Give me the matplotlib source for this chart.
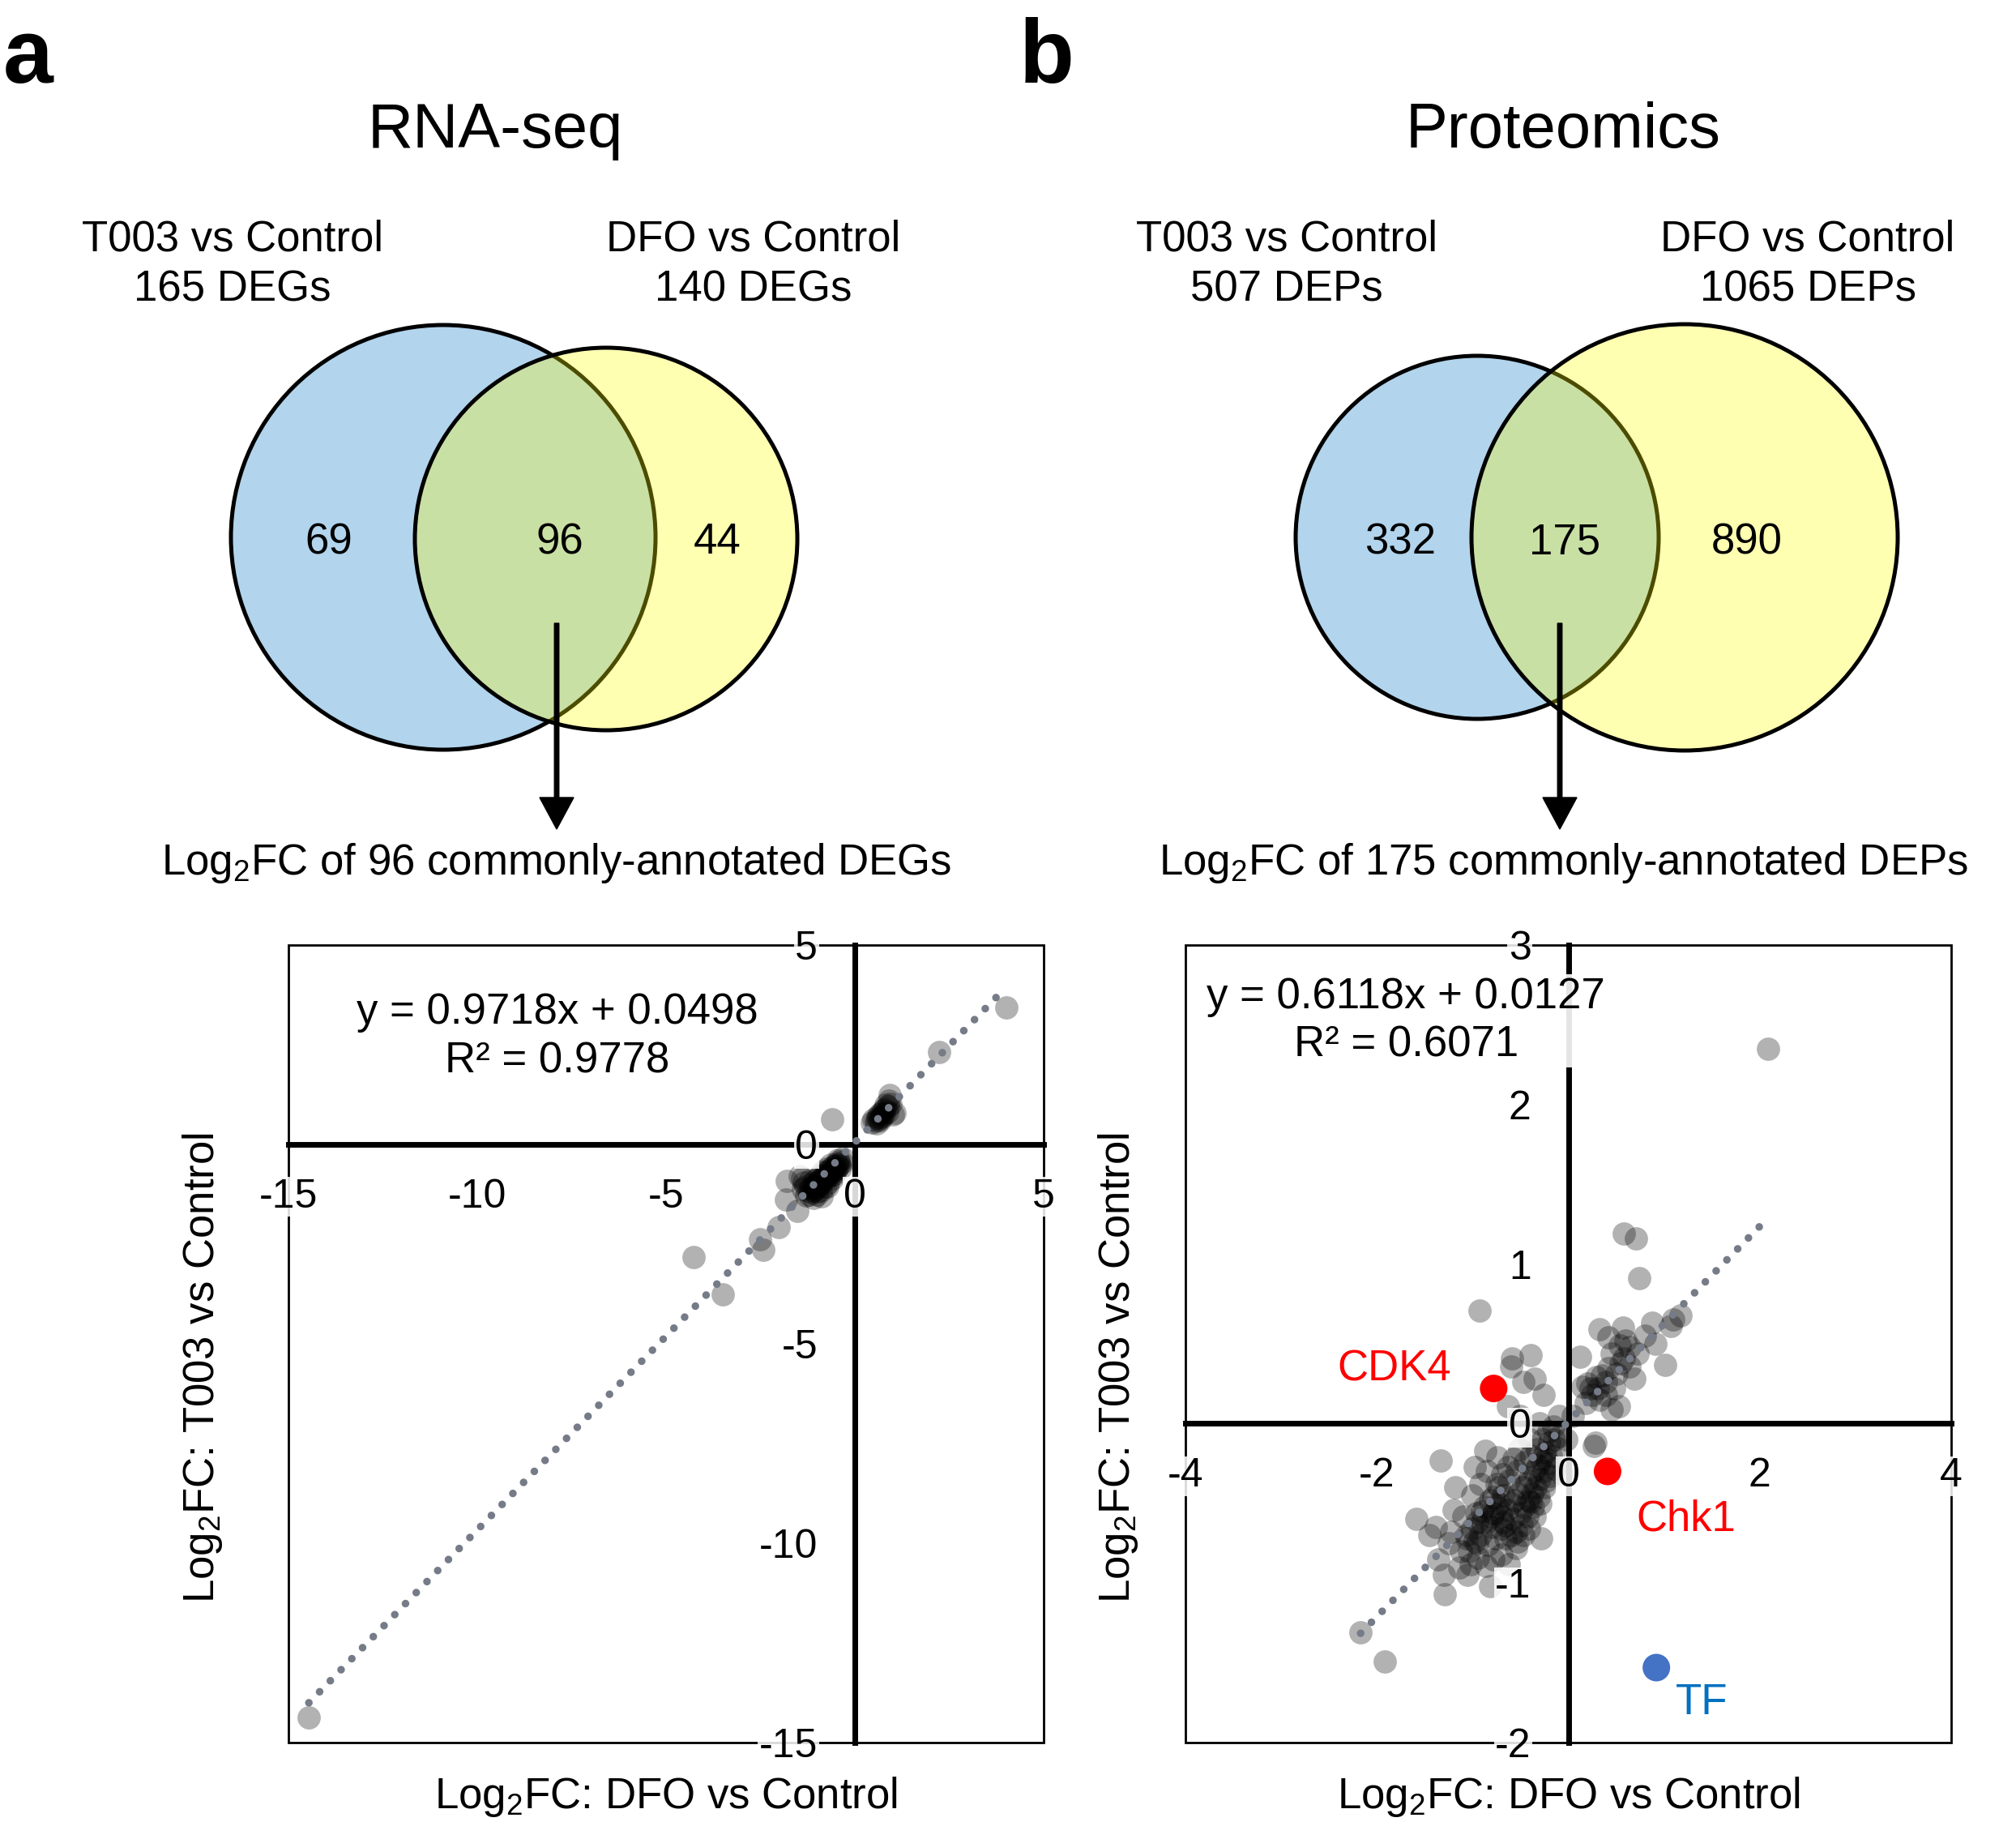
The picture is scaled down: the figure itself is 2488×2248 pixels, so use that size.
import numpy as np
import matplotlib
matplotlib.use("Agg")
import matplotlib.pyplot as plt
from matplotlib.patches import Circle, Rectangle

plt.rcParams["font.family"] = ["Liberation Sans", "DejaVu Sans"]
plt.rcParams["mathtext.fontset"] = "custom"
plt.rcParams["mathtext.rm"] = "Liberation Sans"
plt.rcParams["mathtext.default"] = "regular"
plt.rcParams["axes.unicode_minus"] = False

# ---- Venn counts ----
set_names = ["T003 vs Control", "DFO vs Control"]
rna_totals = [165, 140]
rna_regions = [69, 96, 44]
prot_totals = [507, 1065]
prot_regions = [332, 175, 890]

# ---- RNA-seq: log2FC DFO (x) vs T003 (y), 96 common DEGs ----
rna_x = [4.01, 2.24, -0.61, -1.80, -1.82, -1.53, -2.02, -2.51, -2.42, -4.26, -3.50, -14.46,
         0.45, 0.50, 0.55, 0.60, 0.62, 0.65, 0.68, 0.70, 0.72, 0.75, 0.78,
         0.80, 0.82, 0.85, 0.88, 0.90, 0.92, 0.95, 1.00, 1.05, 0.58, 0.66,
         -0.35, -0.40, -0.42, -0.45, -0.48, -0.50, -0.52, -0.55, -0.58, -0.60,
         -0.62, -0.65, -0.68, -0.70, -0.72, -0.75, -0.78, -0.80, -0.82, -0.85,
         -0.88, -0.90, -0.92, -0.95, -0.98, -1.00, -1.02, -1.05, -1.08, -1.10,
         -1.12, -1.15, -1.18, -1.20, -1.25, -1.30, -1.35, -1.40, -1.45, -0.60,
         -0.70, -0.80, -0.90, -1.00, -0.55, -0.65, -0.75, -0.85, -0.95, -1.05,
         -1.20, -0.45, -0.38, -0.88, -1.10, -0.98, -1.28, -0.72, -0.62, -0.52,
         -1.38, -0.33]
rna_y = [3.43, 2.31, 0.64, -0.92, -1.38, -1.67, -2.07, -2.38, -2.64, -2.82, -3.77, -14.38,
         0.55, 0.62, 0.58, 0.70, 0.65, 0.75, 0.68, 0.80, 0.72, 0.85, 0.78,
         0.90, 1.00, 0.82, 0.95, 1.10, 1.25, 1.02, 0.75, 0.80, 0.52, 0.60,
         -0.45, -0.50, -0.42, -0.55, -0.48, -0.60, -0.52, -0.62, -0.55, -0.68,
         -0.60, -0.72, -0.65, -0.78, -0.70, -0.82, -0.75, -0.88, -0.80, -0.92,
         -0.85, -0.98, -0.90, -1.02, -0.95, -1.08, -1.00, -1.12, -1.05, -1.15,
         -0.98, -1.20, -1.10, -1.25, -1.15, -1.05, -0.95, -0.85, -0.80, -0.85,
         -0.95, -1.05, -1.15, -1.25, -0.75, -0.50, -0.60, -0.70, -0.80, -0.90,
         -0.92, -0.38, -0.58, -1.30, -1.35, -1.18, -1.28, -1.05, -0.78, -0.68,
         -1.12, -0.35]
rna_fit = [0.9718, 0.0498, 0.9778]
rna_ticks = [-15, -10, -5, 0, 5]

# ---- Proteomics: log2FC DFO (x) vs T003 (y), 175 common DEPs ----
prot_x = [-0.10, -0.12, -0.15, -0.18, -0.20, -0.22, -0.24, -0.26, -0.28, -0.30,
          -0.32, -0.34, -0.36, -0.38, -0.40, -0.42, -0.44, -0.46, -0.48, -0.50,
          -0.52, -0.54, -0.56, -0.58, -0.60, -0.62, -0.64, -0.66, -0.68, -0.70,
          -0.14, -0.19, -0.25, -0.31, -0.37, -0.43, -0.49, -0.55, -0.21, -0.27,
          -0.33, -0.39, -0.45, -0.51, -0.57, -0.63, -0.69, -0.75, -0.16, -0.29,
          -0.35, -0.41, -0.47, -0.53, -0.23, -0.40, -0.30, -0.60, -0.72, -0.78,
          -0.74, -0.80, -0.86, -0.92, -0.98, -1.04, -0.70, -0.76, -0.82, -0.88,
          -0.94, -1.00, -1.06, -0.72, -0.78, -0.84, -0.90, -0.96, -1.02, -0.66,
          -1.33, -1.59, -1.38, -1.29, -0.82, -2.17, -1.92, -0.28, -0.55, -0.86,
          -1.14, -1.36, -0.95, -1.06, -1.20, -0.90, -0.98, -0.87, -0.74, -0.06,
          -0.23, -0.39, -0.68, -1.10, -1.25, -0.80, -1.00, -0.92, -1.18, -0.85,
          -1.45, -1.30, -1.05, -0.70, -1.22, -0.62, -0.95, -1.12, -0.78, -0.02,
          2.09, 0.58, 0.71, 0.74, -0.93, 1.17, 1.07, 0.88, 0.33, 0.57,
          0.42, 0.91, 1.01, 0.12, -0.59, -0.39, -0.60, -0.35, -0.26, -0.47,
          -0.63, 0.23, 0.31, 0.39, 0.50, 0.58, 0.69, 0.64, 0.54, 0.45,
          0.18, 0.45, 0.53, 0.15, 0.55, 0.72, 0.64, 0.29, 0.39, 0.27,
          0.28, 0.25, 0.35, 0.20, 0.42, 0.48, 0.33, 0.60, 0.80, 1.10,
          -0.50, -0.10, 0.05]
prot_y = [-0.08, -0.15, -0.10, -0.20, -0.12, -0.25, -0.18, -0.30, -0.22, -0.35,
          -0.26, -0.40, -0.30, -0.44, -0.34, -0.48, -0.38, -0.52, -0.40, -0.56,
          -0.44, -0.30, -0.48, -0.60, -0.50, -0.36, -0.54, -0.64, -0.45, -0.58,
          -0.28, -0.33, -0.40, -0.46, -0.52, -0.58, -0.64, -0.68, -0.05, -0.10,
          -0.16, -0.20, -0.24, -0.16, -0.22, -0.27, -0.32, -0.38, -0.02, -0.50,
          -0.58, -0.66, -0.70, -0.74, -0.36, -0.10, 0.00, -0.70, -0.50, -0.46,
          -0.52, -0.58, -0.62, -0.70, -0.74, -0.80, -0.66, -0.72, -0.48, -0.52,
          -0.84, -0.66, -0.70, -0.40, -0.85, -0.76, -0.62, -0.56, -0.88, -0.72,
          -0.23, -0.60, -0.65, -1.07, -1.02, -1.31, -1.49, -0.72, -0.78, -0.89,
          -0.90, -0.85, -0.75, -0.72, -0.54, -0.55, -0.27, -0.17, -0.21, -0.32,
          -0.22, -0.49, -0.62, -0.58, -0.75, -0.65, -0.45, -0.38, -0.40, -0.30,
          -0.70, -0.95, -0.95, -0.82, -0.68, -0.88, -0.62, -0.80, -0.56, -0.10,
          2.35, 1.19, 1.16, 0.91, 0.71, 0.68, 0.61, 0.63, 0.59, 0.60,
          0.54, 0.50, 0.37, 0.42, 0.41, 0.43, 0.36, 0.28, 0.18, 0.26,
          0.11, 0.22, 0.22, 0.26, 0.31, 0.41, 0.28, 0.48, 0.49, 0.44,
          0.13, 0.09, 0.11, 0.23, 0.38, 0.44, 0.36, 0.29, 0.18, -0.14,
          -0.12, 0.18, 0.30, 0.25, 0.35, 0.22, 0.15, 0.52, 0.55, 0.65,
          0.05, 0.05, 0.05]
prot_fit = [0.6118, 0.0127, 0.6071]
prot_xticks = [-4, -2, 0, 2, 4]
prot_yticks = [-2, -1, 0, 1, 2, 3]

highlight_names = ["CDK4", "Chk1", "TF"]
highlight_x = [-0.78, 0.41, 0.92]
highlight_y = [0.22, -0.30, -1.53]

# ---- styles / layout (pixels of the 2488 x 2248 canvas) ----
W, H = 2488, 2248
BLUE = "#B2D4EC"
YELLOW = (1.0, 1.0, 0.0, 0.30)
TREND = "#767b88"
point_color = ["#FF0000", "#FF0000", "#4472C4"]
label_color = ["#FF0000", "#FF0000", "#0070C0"]
label_offset = [(-1.04, 0.12), (0.82, -0.30), (0.47, -0.22)]

fig = plt.figure(figsize=(W / 100, H / 100), dpi=100)
bg = fig.add_axes([0, 0, 1, 1])
bg.set_xlim(0, W)
bg.set_ylim(H, 0)
bg.axis("off")


def venn_panel(letter, letter_x, title, title_x, totals, regions, unit,
               circles, label_x, count_x, arrow_x, caption_x):
    bg.text(letter_x, 102, letter, fontsize=80, fontweight="bold",
            ha="left", va="baseline")
    bg.text(title_x, 182, title, fontsize=56, ha="center", va="baseline")

    for name, total, lx in zip(set_names, totals, label_x):
        bg.text(lx, 310, name, fontsize=38, ha="center", va="baseline")
        bg.text(lx, 372, f"{total} {unit}", fontsize=38,
                ha="center", va="baseline")

    (cx1, cy1, r1), (cx2, cy2, r2) = circles
    bg.add_patch(Circle((cx1, cy1), r1, facecolor=BLUE,
                        edgecolor="black", lw=3.6))
    bg.add_patch(Circle((cx2, cy2), r2, facecolor=YELLOW,
                        edgecolor="black", lw=3.6))

    for n, cx in zip(regions, count_x):
        bg.text(cx, 683, str(n), fontsize=38, ha="center", va="baseline")

    bg.arrow(arrow_x, 769, 0, 254, width=5.5, head_width=42,
             head_length=39, length_includes_head=True,
             facecolor="black", edgecolor="black")
    bg.text(caption_x, 1079,
            f"Log$_2$FC of {regions[1]} commonly-annotated {unit}",
            fontsize=38, ha="center", va="baseline")


def scatter_panel(left, right, x, y, fit, xlim, ylim, xticks, yticks,
                  eq_pos, ylabel_x):
    top, bottom = 1166, 2150
    ax = fig.add_axes([left / W, 1 - bottom / H,
                       (right - left) / W, (bottom - top) / H])
    ax.set_xlim(xlim)
    ax.set_ylim(ylim)
    ax.set_facecolor("none")

    ax.scatter(x, y, s=430, color="black", alpha=0.30,
               linewidths=0, zorder=3)

    slope, icpt, r2 = fit
    xs = np.array([min(x), max(x)])
    ax.plot(xs, slope * xs + icpt, color=TREND, lw=6.8,
            linestyle=(0, (0.01, 2.0)), dash_capstyle="round", zorder=4)

    ax.spines["top"].set_visible(False)
    ax.spines["right"].set_visible(False)
    ax.spines["left"].set_position(("data", 0))
    ax.spines["bottom"].set_position(("data", 0))
    ax.spines["left"].set_linewidth(5)
    ax.spines["bottom"].set_linewidth(5)
    ax.add_patch(Rectangle((0, 0), 1, 1, transform=ax.transAxes,
                           fill=False, lw=2, edgecolor="black",
                           clip_on=False, zorder=2))

    ax.set_xticks(xticks)
    ax.set_yticks(yticks)
    ax.tick_params(axis="x", length=0, labelsize=36, pad=30)
    ax.tick_params(axis="y", length=0, labelsize=36, pad=33)
    ax.xaxis.set_zorder(6)
    ax.yaxis.set_zorder(6)
    for t in ax.xaxis.get_major_ticks() + ax.yaxis.get_major_ticks():
        t.label1.set_bbox(dict(facecolor="white", alpha=0.85,
                               edgecolor="none", pad=1))

    ax.text(eq_pos[0], eq_pos[1],
            f"y = {slope:.4f}x + {icpt:.4f}\nR² = {r2:.4f}",
            transform=ax.transAxes, fontsize=38, ha="center", va="center",
            linespacing=1.25, zorder=7,
            bbox=dict(facecolor="white", alpha=0.9, edgecolor="none",
                      pad=2))

    ax.text(ylabel_x, 0.47, "Log$_2$FC: T003 vs Control",
            transform=ax.transAxes, fontsize=38, rotation=90,
            ha="center", va="center")
    ax.text(0.5, -0.068, "Log$_2$FC: DFO vs Control",
            transform=ax.transAxes, fontsize=38, ha="center", va="center")
    return ax


venn_panel("a", 4, "RNA-seq", 611, rna_totals, rna_regions, "DEGs",
           circles=[(547, 663, 262), (748, 665, 236)],
           label_x=[287, 930], count_x=[406, 691, 885],
           arrow_x=687, caption_x=687)
venn_panel("b", 1258, "Proteomics", 1929, prot_totals, prot_regions, "DEPs",
           circles=[(1823, 663, 224), (2079, 663, 263)],
           label_x=[1588, 2231], count_x=[1728, 1931, 2156],
           arrow_x=1925, caption_x=1929)

scatter_panel(356, 1288, rna_x, rna_y, rna_fit, (-15, 5), (-15, 5),
              rna_ticks, rna_ticks, eq_pos=(0.356, 0.885), ylabel_x=-0.114)

ax_b = scatter_panel(1463, 2408, prot_x, prot_y, prot_fit, (-4, 4), (-2, 3),
                     prot_xticks, prot_yticks, eq_pos=(0.288, 0.905),
                     ylabel_x=-0.088)

ax_b.scatter(highlight_x, highlight_y, s=600, c=point_color,
             linewidths=0, zorder=5)
for name, hx, hy, col, off in zip(highlight_names, highlight_x, highlight_y,
                                  label_color, label_offset):
    ax_b.text(hx + off[0], hy + off[1], name, color=col, fontsize=38,
              ha="center", va="center", zorder=7)

fig.savefig("out.png", dpi=100)
